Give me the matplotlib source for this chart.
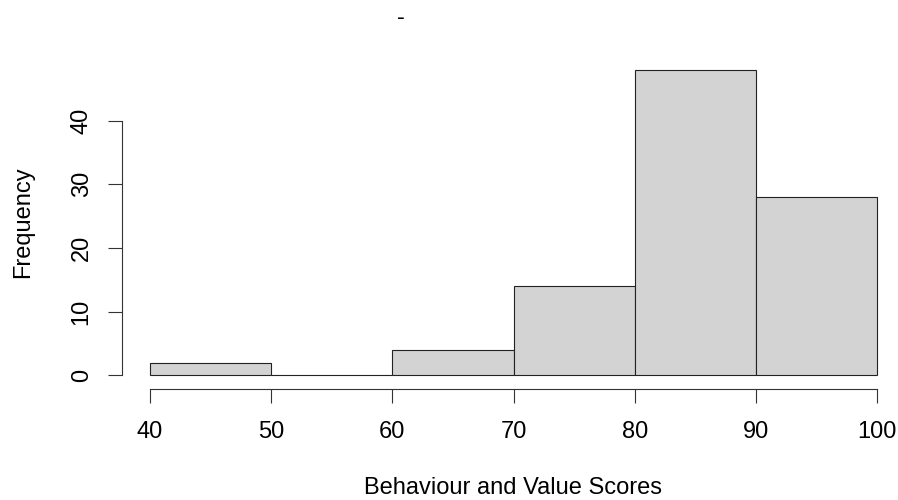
import matplotlib
matplotlib.use("Agg")
import matplotlib.pyplot as plt

# histogram of scores
bin_edges = [40, 50, 60, 70, 80, 90, 100]
counts = [2, 0, 4, 14, 48, 28]
x_ticks = [40, 50, 60, 70, 80, 90, 100]
y_ticks = [0, 10, 20, 30, 40]

plt.rcParams['font.family'] = ['Liberation Sans', 'DejaVu Sans']

fig = plt.figure(figsize=(8.98, 5), dpi=100)
ax = fig.add_axes([150/898, 1 - 375.3/500, 727/898, 318.25/500])

_, _, patches = ax.hist(bin_edges[:-1], bins=bin_edges, weights=counts,
                        color='#d3d3d3', edgecolor='#222222', linewidth=0.8)
for p in patches:
    p.set_clip_on(False)

ax.set_xlim(40, 100)
ax.set_ylim(0, 50)

for s in ['top', 'right']:
    ax.spines[s].set_visible(False)
ax.spines['left'].set_position(('outward', 20.2))
ax.spines['bottom'].set_position(('outward', 10.1))
ax.spines['left'].set_bounds(0, 40)
ax.spines['bottom'].set_bounds(40, 100)
for s in ['left', 'bottom']:
    ax.spines[s].set_linewidth(0.8)
    ax.spines[s].set_color('#333333')

ax.set_xticks(x_ticks)
ax.set_yticks(y_ticks)
ax.tick_params(length=10.1, width=0.8, color='#333333', labelsize=17)
ax.tick_params(axis='x', pad=13)
ax.tick_params(axis='y', pad=11)
ax.set_yticklabels([str(v) for v in y_ticks], rotation=90, va='center')

fig.text(513/898, 1 - 488/500, 'Behaviour and Value Scores', ha='center', va='center', fontsize=17)
fig.text(23/898, 1 - 222/500, 'Frequency', ha='center', va='center', rotation=90, fontsize=17)
fig.text(401/898, 1 - 18/500, '-', ha='center', va='center', fontsize=17)

fig.savefig('out.png', dpi=100)
